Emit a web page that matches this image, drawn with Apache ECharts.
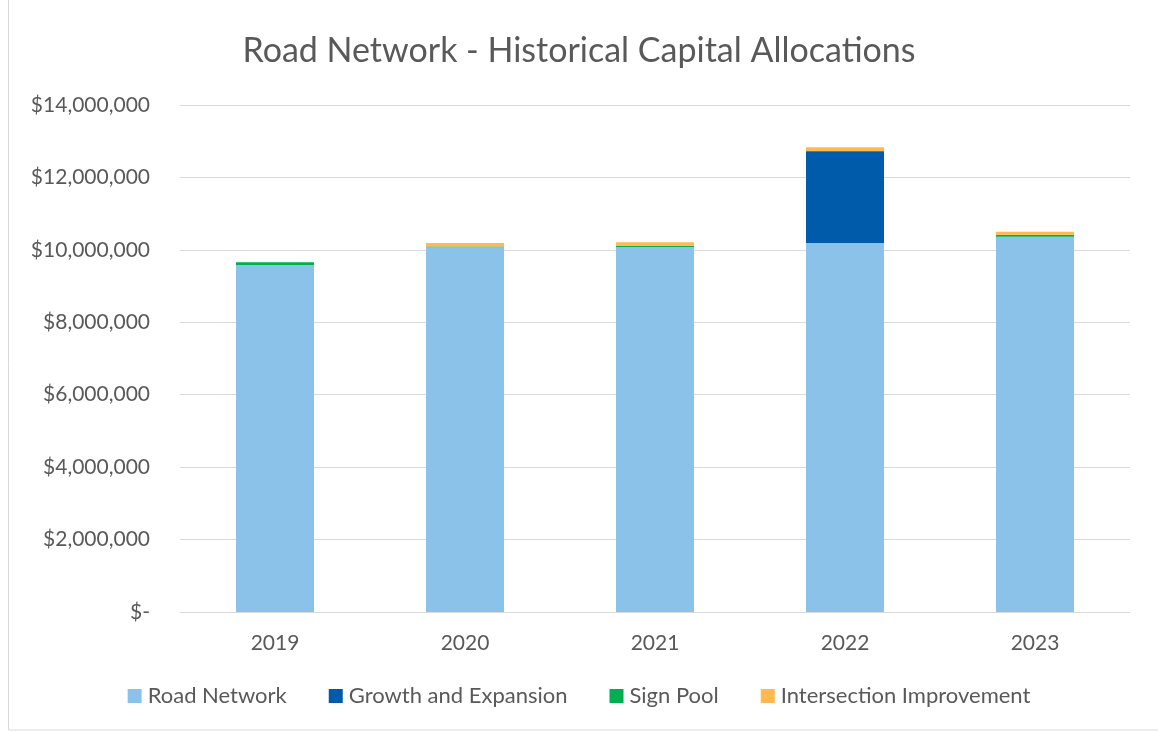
<!DOCTYPE html>
<html>
<head>
<meta charset="utf-8">
<script src="https://cdn.jsdelivr.net/npm/echarts@6/dist/echarts.min.js"></script>
<style>
  html, body { margin: 0; padding: 0; background: #fff; }
  #chart { width: 1158px; height: 732px; }
</style>
</head>
<body>
<div id="chart"></div>
<script>
  // data
  var years = ['2019', '2020', '2021', '2022', '2023'];
  var roadNetwork = [9580000, 10070000, 10080000, 10190000, 10360000];
  var growthExpansion = [0, 0, 0, 2510000, 0];
  var signPool = [80000, 20000, 30000, 30000, 60000];
  var intersection = [0, 100000, 100000, 100000, 80000];

  var colors = ['#8BC2EA', '#005BAA', '#00B050', '#FFB94F'];
  var font = 'Lato, "Open Sans", sans-serif';

  function money(v) {
    if (v === 0) return '$-';
    return '$' + v.toLocaleString('en-US');
  }

  var chart = echarts.init(document.getElementById('chart'));

  function bar(name, data, color) {
    return {
      name: name,
      type: 'bar',
      stack: 'total',
      data: data,
      barWidth: 78,
      itemStyle: { color: color },
      emphasis: { disabled: true }
    };
  }

  chart.setOption({
    animation: false,
    textStyle: { fontFamily: font },
    graphic: [{
      type: 'rect',
      shape: { x: 8.5, y: -2, width: 1160, height: 732 },
      style: { fill: 'none', stroke: '#D9D9D9', lineWidth: 1 },
      silent: true
    }],
    title: {
      text: 'Road Network - Historical Capital Allocations',
      left: 'center',
      top: 29,
      textStyle: { fontFamily: font, fontSize: 34, fontWeight: 'normal', color: '#595959' }
    },
    legend: {
      bottom: 20,
      left: 'center',
      itemWidth: 14,
      itemHeight: 14,
      itemGap: 42,
      icon: 'rect',
      textStyle: { fontFamily: font, fontSize: 22, color: '#595959', padding: [0, 0, 0, 1] },
      data: ['Road Network', 'Growth and Expansion', 'Sign Pool', 'Intersection Improvement']
    },
    grid: { left: 180, right: 28, top: 105, bottom: 120 },
    xAxis: {
      type: 'category',
      data: years,
      axisTick: { show: false },
      axisLine: { lineStyle: { color: '#D9D9D9', width: 1 } },
      axisLabel: { fontSize: 21, color: '#595959', margin: 21 }
    },
    yAxis: {
      type: 'value',
      min: 0,
      max: 14000000,
      interval: 2000000,
      axisLine: { show: false },
      axisTick: { show: false },
      splitLine: { lineStyle: { color: '#D9D9D9', width: 1 } },
      axisLabel: { fontSize: 21, color: '#595959', margin: 30, formatter: money }
    },
    series: [
      bar('Road Network', roadNetwork, colors[0]),
      bar('Growth and Expansion', growthExpansion, colors[1]),
      bar('Sign Pool', signPool, colors[2]),
      bar('Intersection Improvement', intersection, colors[3])
    ]
  });
</script>
</body>
</html>
